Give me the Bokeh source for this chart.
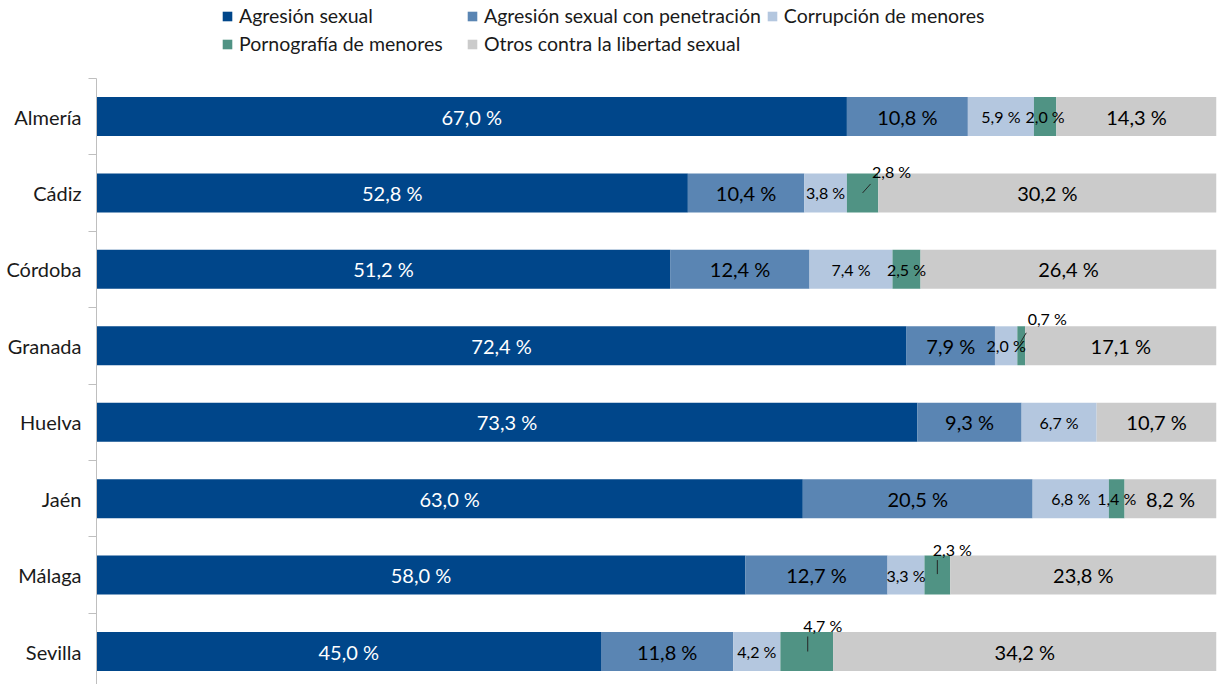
import numpy as np
from bokeh.plotting import figure
from bokeh.models import (Range1d, FixedTicker, Legend, LegendItem, ColumnDataSource,
                          CustomJSTickFormatter)
from bokeh.core.properties import value
from bokeh.embed import file_html
from bokeh.resources import INLINE

provinces = ["Almería", "Cádiz", "Córdoba", "Granada", "Huelva", "Jaén", "Málaga", "Sevilla"]
agresion = [67.0, 52.8, 51.2, 72.4, 73.3, 63.0, 58.0, 45.0]
penetracion = [10.8, 10.4, 12.4, 7.9, 9.3, 20.5, 12.7, 11.8]
corrupcion = [5.9, 3.8, 7.4, 2.0, 6.7, 6.8, 3.3, 4.2]
pornografia = [2.0, 2.8, 2.5, 0.7, 0.0, 1.4, 2.3, 4.7]
otros = [14.3, 30.2, 26.4, 17.1, 10.7, 8.2, 23.8, 34.2]
names = ["Agresión sexual", "Agresión sexual con penetración", "Corrupción de menores",
         "Pornografía de menores", "Otros contra la libertad sexual"]

colors = ["#00468A", "#5A85B3", "#B4C7DF", "#509384", "#CBCBCB"]
label_colors = ["white", "black", "black", "black", "black"]
label_sizes = ["20px", "20px", "16px", "16px", "20px"]
FONT = "Lato"

# callout labels (pixel offsets of label and leader line relative to segment centre)
callout = {
    "Cádiz": dict(lab=(29, -21), line=((0, 0), (8, -9))),
    "Granada": dict(lab=(26, -27), line=((-1, -3), (5, -13))),
    "Málaga": dict(lab=(15, -26), line=((0, -1), (0, -15))),
    "Sevilla": dict(lab=(16, -26), line=((1, 0), (1, -15))),
}

series = [agresion, penetracion, corrupcion, pornografia, otros]
vals = np.array(series, dtype=float)
shares = vals / vals.sum(axis=0) * 100
right = np.cumsum(shares, axis=0)
left = right - shares
n = len(provinces)
ypos = [float(n - 1 - i) for i in range(n)]

W, H = 1220, 684
ML, MR = 96, 4
UNIT = 76.43            # pixels per category
Y_TOP = 7 + 116 / UNIT
Y_BOT = Y_TOP - H / UNIT
FRAME_W = W - ML - MR
px_x = 100 / FRAME_W
px_y = 1 / UNIT

p = figure(width=W, height=H, output_backend="svg", toolbar_location=None,
           x_range=Range1d(0, 100), y_range=Range1d(Y_BOT, Y_TOP),
           min_border_left=ML, min_border_right=MR, min_border_top=0, min_border_bottom=0)
p.outline_line_color = None
p.xgrid.visible = False
p.ygrid.visible = False
p.xaxis.visible = False

yax = p.yaxis[0]
yax.bounds = (Y_BOT, n - 0.5)
yax.ticker = FixedTicker(ticks=ypos, minor_ticks=[i + 0.5 for i in range(-1, n)])
yax.formatter = CustomJSTickFormatter(args=dict(names=provinces),
                                      code="return names[names.length - 1 - Math.round(tick)];")
yax.major_tick_out = 0
yax.major_tick_in = 0
yax.minor_tick_out = 8
yax.minor_tick_in = 0
yax.minor_tick_line_color = "#BFBFBF"
yax.axis_line_color = "#BFBFBF"
yax.major_label_text_font = FONT
yax.major_label_text_font_size = "20px"
yax.major_label_text_color = "#1a1a1a"
yax.major_label_standoff = 7

renderers = []
for k in range(5):
    src = ColumnDataSource(dict(y=ypos, left=list(left[k]), right=list(right[k])))
    r = p.hbar(y="y", left="left", right="right", height=0.51, fill_color=colors[k], line_color=None, source=src)
    renderers.append(r)

for k in range(5):
    xs, ys, txt, xo, yo = [], [], [], [], []
    lx0, ly0, lx1, ly1 = [], [], [], []
    for i, prov in enumerate(provinces):
        v = vals[k, i]
        if v <= 0:
            continue
        cx = float((left[k, i] + right[k, i]) / 2)
        cy = ypos[i]
        xs.append(cx); ys.append(cy)
        txt.append(f"{v:.1f} %".replace(".", ","))
        if k == 3 and prov in callout:
            c = callout[prov]
            xo.append(c["lab"][0]); yo.append(c["lab"][1])
            (a, b), (c2, d) = c["line"]
            lx0.append(cx + a * px_x); ly0.append(cy - b * px_y)
            lx1.append(cx + c2 * px_x); ly1.append(cy - d * px_y)
        else:
            xo.append(0); yo.append(0)
    src = ColumnDataSource(dict(x=xs, y=ys, t=txt, xo=xo, yo=yo))
    p.text(x="x", y="y", text="t", x_offset="xo", y_offset="yo", source=src,
           text_align="center", text_baseline="middle", text_color=label_colors[k],
           text_font=value(FONT), text_font_size=label_sizes[k])
    if lx0:
        p.segment(x0=lx0, y0=ly0, x1=lx1, y1=ly1, line_color="#262626", line_width=1)

legend = Legend(items=[LegendItem(label=nm, renderers=[r]) for nm, r in zip(names, renderers)],
                orientation="horizontal", ncols=3, location=(125, H - 55))
legend.label_text_font = FONT
legend.label_text_font_size = "19.5px"
legend.label_text_color = "#1a1a1a"
legend.glyph_width = 12
legend.glyph_height = 12
legend.label_standoff = 6
legend.label_height = 20
legend.label_width = 222
legend.spacing = 5
legend.padding = 0
legend.margin = 0
legend.border_line_color = None
legend.background_fill_alpha = 0
p.add_layout(legend, "center")

open("out.html", "w").write(file_html(p, INLINE))
